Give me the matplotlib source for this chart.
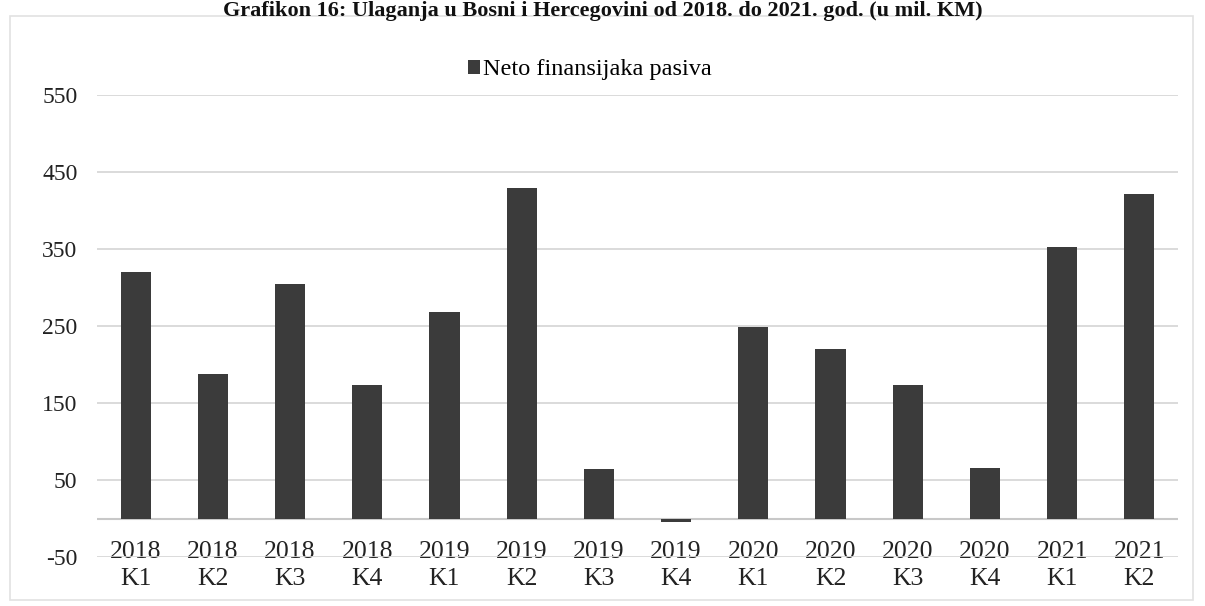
import matplotlib
matplotlib.use("Agg")
import matplotlib.pyplot as plt
from matplotlib.patches import Rectangle

years = ["2018", "2018", "2018", "2018", "2019", "2019", "2019", "2019",
         "2020", "2020", "2020", "2020", "2021", "2021"]
quarters = ["K1", "K2", "K3", "K4", "K1", "K2", "K3", "K4",
            "K1", "K2", "K3", "K4", "K1", "K2"]
values = [320, 188, 305, 174, 268, 429, 64, -4, 249, 220, 174, 66, 353, 421]
yticks = [-50, 50, 150, 250, 350, 450, 550]
series_name = "Neto finansijaka pasiva"
title = "Grafikon 16: Ulaganja u Bosni i Hercegovini od 2018. do 2021. god. (u mil. KM)"

plt.rcParams['font.family'] = ['Liberation Serif', 'DejaVu Serif']

fig = plt.figure(figsize=(12.05, 6.06), dpi=100)
ax = fig.add_axes([97/1205, 1 - 557/606, (1178 - 97)/1205, (557 - 95)/606])

x = list(range(len(values)))
labels = [f"{y}\n{q}" for y, q in zip(years, quarters)]
bars = ax.bar(x, values, width=0.39, color="#3b3b3b", label=series_name, zorder=3)

ax.set_xlim(-0.5, len(values) - 0.5)
ax.set_ylim(-50, 550)
ax.set_yticks(yticks)
ax.set_yticklabels([str(v) for v in yticks], fontsize=17, color="#222222")
ax.tick_params(axis='y', length=0, pad=14)
ax.set_xticks(x)
ax.set_xticklabels(labels, fontsize=18.5, color="#222222", linespacing=1.3)
for lab in ax.get_xticklabels():
    lab.set_verticalalignment('center')
ax.tick_params(axis='x', length=0, pad=6)

ax.grid(axis='y', color="#d4d4d4", linewidth=1.2, zorder=0)
ax.axhline(0, color="#c8c8c8", linewidth=1.5, zorder=2)
for s in ax.spines.values():
    s.set_visible(False)

fig.legend(handles=[bars], labels=[series_name], loc='center',
           bbox_to_anchor=(590/1205, 1 - 70/606), frameon=False,
           fontsize=17.5, handlelength=0.5, handleheight=0.5, handletextpad=0.1)

fig.text(0.5, 1 - 1/606, title, ha='center', va='top', fontsize=16,
         fontweight='bold', color="#111111")

fig.patches.append(Rectangle((10/1205, 6/606), (1193 - 10)/1205, (590 - 6)/606,
                             transform=fig.transFigure, fill=False,
                             edgecolor="#e2e2e2", linewidth=1.2))

fig.savefig("out.png", dpi=100)
